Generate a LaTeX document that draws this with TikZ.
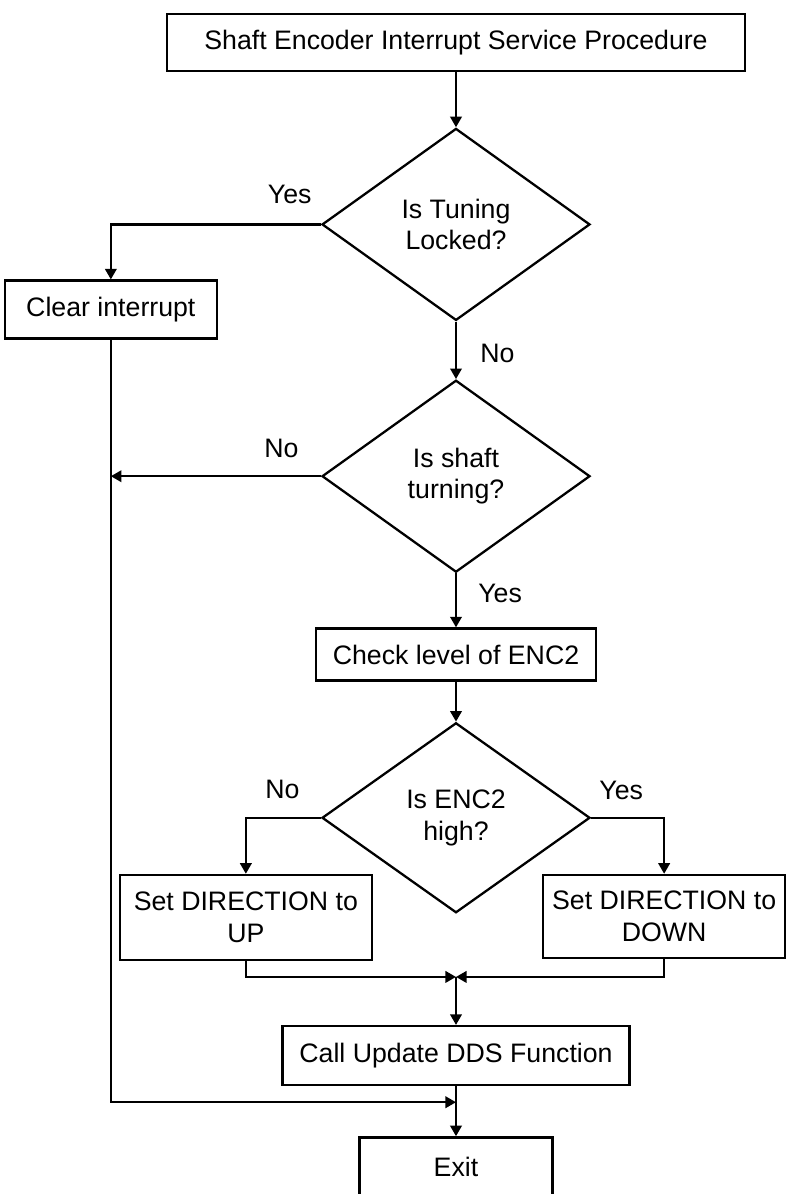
\documentclass[tikz,border=0pt]{standalone}
\usepackage{fontspec}
\setmainfont{Liberation Sans}
\usetikzlibrary{shapes.geometric, arrows.meta, positioning}

\begin{document}
\begin{tikzpicture}[
        node distance=1.2cm,
        font=\fontsize{15.2}{18}\selectfont,
        box/.style={rectangle, draw=black, line width=1.3pt, inner sep=2pt, align=center},
        dec/.style={diamond, draw=black, line width=1.3pt, minimum width=5.36cm, minimum height=3.84cm, inner sep=0pt, align=center},
        lbl/.style={inner sep=0pt},
        arrow/.style={-{Triangle[length=6pt,width=6.5pt]}, line width=1.3pt}
    ]
    \node (top) [box, minimum width=11.56cm, minimum height=1.14cm] {Shaft Encoder Interrupt Service Procedure};
    \useasboundingbox ([xshift=-9.12cm, yshift=0.26cm]top.north) rectangle ++(15.7cm,-23.88cm);
    \node (tune) [dec, below=1.1cm of top] {Is Tuning\\Locked?};
    \node (clear) [box, minimum width=4.24cm, minimum height=1.16cm, below=1.1cm of tune.west, xshift=-4.2cm] {Clear interrupt};
    \node (shaft) [dec, below=1.15cm of tune] {Is shaft\\turning?};
    \node (check) [box, minimum width=5.6cm, minimum height=1.04cm, below=1.08cm of shaft] {Check level of ENC2};
    \node (enc) [dec, minimum height=3.8cm, below=0.8cm of check] {Is ENC2\\high?};
    \node (up) [box, minimum width=5.04cm, minimum height=1.7cm, below=1.12cm of enc.west, xshift=-1.5cm] {Set DIRECTION to\\UP};
    \node (down) [box, minimum width=4.84cm, minimum height=1.66cm, below=1.12cm of enc.east, xshift=1.46cm] {Set DIRECTION to\\DOWN};
    \node (upd) [box, minimum width=6.94cm, minimum height=1.18cm, below=2.22cm of enc] {Call Update DDS Function};
    \node (exit) [box, minimum width=3.86cm, minimum height=1.2cm, below=1.0cm of upd] {Exit};

    % branch labels
    \node (yes1) [lbl, above left=0.4cm and 0.18cm of tune.west] {Yes};
    \node (no1) [lbl, below right=0.44cm and 0.48cm of tune.south] {No};
    \node (no2) [lbl, above left=0.36cm and 0.44cm of shaft.west] {No};
    \node (yes2) [lbl, below right=0.2cm and 0.44cm of shaft.south] {Yes};
    \node (no3) [lbl, above left=0.38cm and 0.42cm of enc.west] {No};
    \node (yes3) [lbl, above right=0.36cm and 0.16cm of enc.east] {Yes};

    \coordinate (mrg) at ([yshift=0.96cm]upd.north);
    \coordinate (join) at ([yshift=-0.32cm]upd.south);

    \draw [arrow] (top) -- (tune);
    \draw [arrow] (tune.west) -| (clear.north);
    \draw [arrow] (tune) -- (shaft);
    \draw [arrow] (shaft.west) -- (shaft.west -| clear.south);
    \draw [arrow] (clear.south) |- (join);
    \draw [arrow] (shaft) -- (check);
    \draw [arrow] (check) -- (enc);
    \draw [arrow] (enc.west) -| (up.north);
    \draw [arrow] (enc.east) -| (down.north);
    \draw [arrow] (up.south) |- (mrg);
    \draw [arrow] (down.south) |- (mrg);
    \draw [arrow] (mrg) -- (upd);
    \draw [arrow] (upd) -- (exit);
\end{tikzpicture}
\end{document}
